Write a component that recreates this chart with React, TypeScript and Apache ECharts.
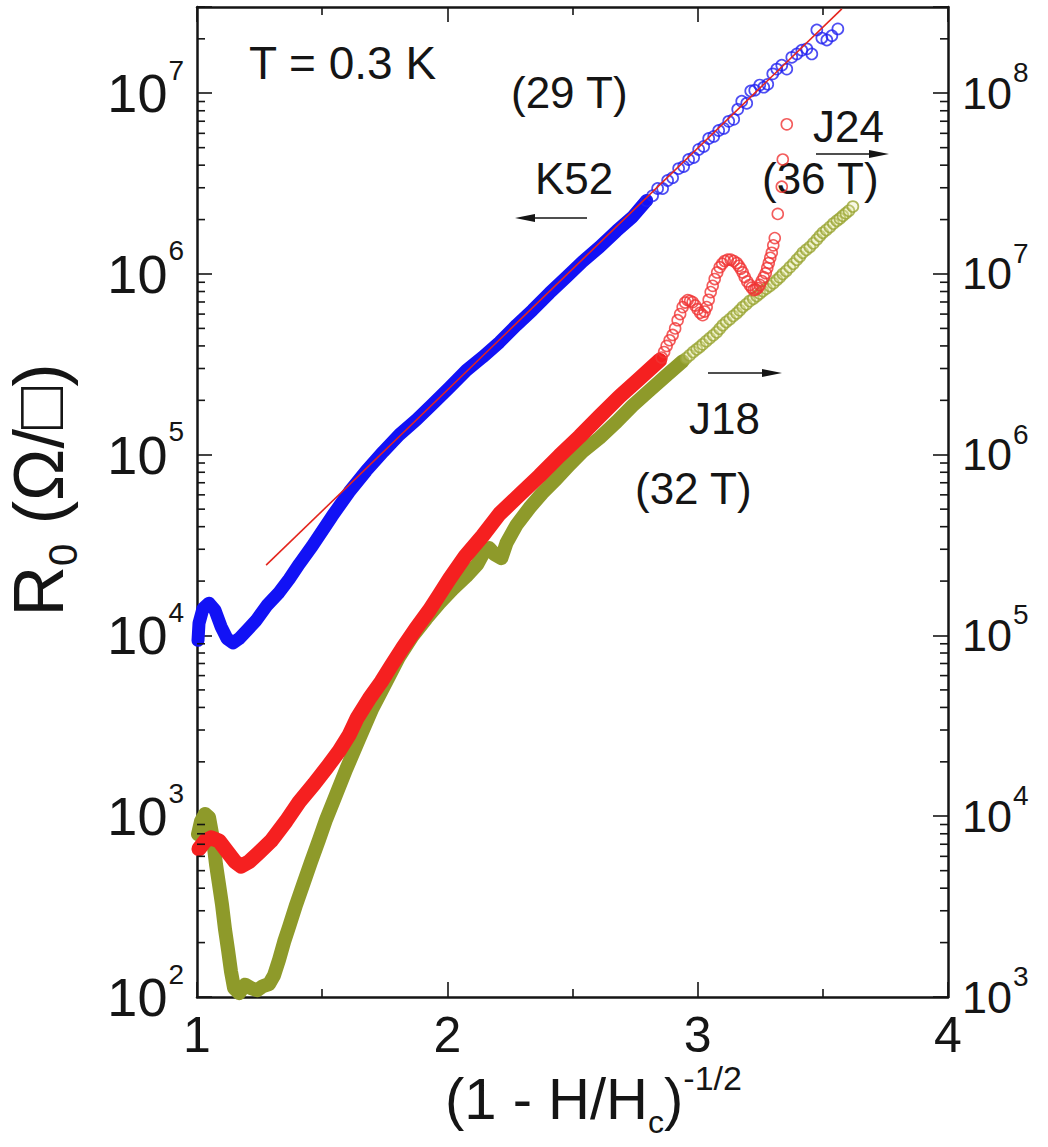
import React, { useEffect, useRef } from "react";
import * as echarts from "echarts";

const FONT = "'Liberation Sans', Arial, Helvetica, sans-serif";

// x axis: (1 - H/Hc)^-1/2
const X_MIN = 1;
const X_MAX = 4;
const X_INTERVAL = 1;

// left axis (K52), Ohm/sq
const LEFT_MIN = 100;
const LEFT_MAX = 3e7;
// right axis (J24, J18), Ohm/sq
const RIGHT_MIN = 1000;
const RIGHT_MAX = 3e8;

const minorFactors = [2, 3, 4, 5, 6, 7, 8, 9];
const leftDecades = [100, 1000, 1e4, 1e5, 1e6, 1e7];
const rightDecades = [1000, 1e4, 1e5, 1e6, 1e7, 1e8];

// K52 (left axis) – dense part of the data
const k52Dense: [number, number][] = [
  [1.004, 9.4e3], [1.008, 1.17e4], [1.024, 1.41e4], [1.048, 1.51e4], [1.072, 1.38e4],
  [1.096, 1.12e4], [1.12, 9.6e3], [1.144, 9.1e3], [1.168, 9.6e3], [1.2, 1.07e4],
  [1.236, 1.21e4], [1.28, 1.47e4], [1.328, 1.73e4], [1.368, 2.05e4], [1.408, 2.48e4],
  [1.46, 3.12e4], [1.54, 4.58e4], [1.608, 6.23e4], [1.676, 8.15e4], [1.744, 1.04e5],
  [1.808, 1.29e5], [1.876, 1.56e5], [1.94, 1.9e5], [2.008, 2.35e5], [2.076, 2.93e5],
  [2.14, 3.46e5], [2.208, 4.19e5], [2.276, 5.21e5], [2.34, 6.31e5], [2.408, 7.84e5],
  [2.476, 9.62e5], [2.54, 1.17e6], [2.608, 1.41e6], [2.676, 1.73e6], [2.74, 2.07e6],
  [2.796, 2.55e6],
];
// K52 – sparse open circles at high x
const k52Sparse: [number, number][] = [
  [2.796, 2.54e6], [2.82, 2.71e6], [2.84, 2.97e6], [2.86, 2.97e6], [2.88, 3.29e6],
  [2.9, 3.41e6], [2.924, 3.83e6], [2.944, 3.93e6], [2.964, 4.3e6], [2.984, 4.41e6],
  [3.004, 4.89e6], [3.024, 5.08e6], [3.044, 5.62e6], [3.064, 5.77e6], [3.084, 6.22e6],
  [3.104, 6.39e6], [3.124, 6.99e6], [3.144, 7.17e6], [3.16, 8.15e6], [3.176, 9.03e6],
  [3.196, 8.8e6], [3.212, 1.03e7], [3.228, 1.04e7], [3.248, 1.11e7], [3.264, 1.08e7],
  [3.28, 1.12e7], [3.3, 1.28e7], [3.316, 1.36e7], [3.336, 1.43e7], [3.356, 1.36e7],
  [3.376, 1.58e7], [3.396, 1.65e7], [3.416, 1.73e7], [3.436, 1.76e7], [3.456, 1.65e7],
  [3.476, 2.24e7], [3.496, 2.02e7], [3.516, 1.97e7], [3.536, 2.08e7], [3.56, 2.27e7],
];
// exponential fit for K52
const k52Fit: [number, number][] = [
  [1.276, 2.45e4],
  [3.576, 2.93e7],
];

// J24 (right axis)
const j24Dense: [number, number][] = [
  [1.008, 6.6e3], [1.032, 7.3e3], [1.056, 7.6e3], [1.088, 7.3e3], [1.12, 6.4e3],
  [1.152, 5.6e3], [1.176, 5.3e3], [1.208, 5.6e3], [1.248, 6.3e3], [1.296, 7.3e3],
  [1.356, 9.4e3], [1.408, 1.2e4], [1.468, 1.51e4], [1.52, 1.87e4], [1.568, 2.3e4],
  [1.608, 2.82e4], [1.64, 3.5e4], [1.688, 4.47e4], [1.736, 5.55e4], [1.776, 6.81e4],
  [1.82, 8.47e4], [1.872, 1.08e5], [1.928, 1.38e5], [1.968, 1.68e5], [2.008, 2.05e5],
  [2.072, 2.75e5], [2.14, 3.55e5], [2.208, 4.7e5], [2.288, 6.0e5], [2.368, 7.64e5],
  [2.448, 9.87e5], [2.528, 1.26e6], [2.608, 1.63e6], [2.688, 2.1e6], [2.768, 2.64e6],
  [2.848, 3.33e6],
];
const j24Sparse: [number, number][] = [
  [2.856, 3.45e6], [2.866, 3.7e6], [2.876, 4.0e6], [2.888, 4.3e6], [2.9, 4.6e6],
  [2.91, 5.0e6], [2.92, 5.55e6], [2.93, 6.0e6], [2.94, 6.56e6], [2.95, 6.95e6],
  [2.96, 7.17e6], [2.97, 7.1e6], [2.98, 6.99e6], [2.99, 6.7e6], [3.0, 6.39e6],
  [3.01, 6.1e6], [3.02, 5.92e6], [3.028, 6.2e6], [3.036, 6.56e6], [3.044, 7.2e6],
  [3.052, 7.94e6], [3.06, 8.6e6], [3.068, 9.38e6], [3.078, 1.02e7], [3.088, 1.09e7],
  [3.098, 1.14e7], [3.108, 1.18e7], [3.12, 1.2e7], [3.132, 1.2e7], [3.144, 1.18e7],
  [3.156, 1.15e7], [3.164, 1.11e7], [3.172, 1.07e7], [3.18, 1.02e7], [3.188, 9.62e6],
  [3.198, 9.1e6], [3.208, 8.69e6], [3.216, 8.4e6], [3.224, 8.15e6], [3.232, 8.2e6],
  [3.24, 8.36e6], [3.248, 8.7e6], [3.256, 9.14e6], [3.264, 9.6e6], [3.272, 1.01e7],
  [3.278, 1.08e7], [3.284, 1.15e7], [3.29, 1.23e7], [3.296, 1.31e7], [3.302, 1.44e7],
  [3.308, 1.58e7], [3.32, 2.15e7], [3.336, 3.04e7], [3.34, 4.3e7], [3.356, 6.73e7],
];

// J18 (right axis)
const j18Dense: [number, number][] = [
  [1.004, 7.94e3], [1.016, 9.38e3], [1.032, 1.03e4], [1.048, 9.87e3], [1.064, 7.45e3],
  [1.076, 5.41e3], [1.088, 4.19e3], [1.1, 3.24e3], [1.112, 2.36e3], [1.124, 1.82e3],
  [1.136, 1.38e3], [1.148, 1.12e3], [1.168, 1.05e3], [1.192, 1.17e3], [1.216, 1.12e3],
  [1.24, 1.09e3], [1.264, 1.15e3], [1.288, 1.18e3], [1.308, 1.32e3], [1.328, 1.61e3],
  [1.348, 2.02e3], [1.368, 2.45e3], [1.396, 3.24e3], [1.428, 4.35e3], [1.456, 5.62e3],
  [1.488, 7.45e3], [1.516, 9.62e3], [1.548, 1.24e4], [1.596, 1.82e4], [1.648, 2.68e4],
  [1.7, 3.93e4], [1.756, 5.55e4], [1.808, 7.64e4], [1.86, 9.87e4], [1.916, 1.24e5],
  [1.968, 1.51e5], [2.02, 1.8e5], [2.076, 2.13e5], [2.12, 2.48e5], [2.148, 2.93e5],
  [2.168, 3.04e5], [2.188, 2.82e5], [2.216, 2.68e5], [2.236, 3.24e5], [2.276, 4.08e5],
  [2.328, 5.08e5], [2.38, 6.15e5], [2.436, 7.36e5], [2.488, 8.8e5], [2.54, 1.04e6],
  [2.608, 1.24e6], [2.676, 1.52e6], [2.74, 1.87e6], [2.808, 2.27e6], [2.876, 2.75e6],
  [2.94, 3.29e6],
];
const j18Sparse: [number, number][] = [
  [2.954, 3.42e6], [2.968, 3.55e6], [2.982, 3.7e6], [2.996, 3.83e6], [3.008, 3.95e6],
  [3.02, 4.08e6], [3.034, 4.25e6], [3.048, 4.41e6], [3.062, 4.58e6], [3.076, 4.76e6],
  [3.088, 4.98e6], [3.1, 5.21e6], [3.114, 5.42e6], [3.128, 5.62e6], [3.142, 5.85e6],
  [3.156, 6.07e6], [3.168, 6.3e6], [3.18, 6.56e6], [3.194, 6.8e6], [3.208, 7.08e6],
  [3.222, 7.3e6], [3.236, 7.55e6], [3.248, 7.8e6], [3.26, 8.05e6], [3.274, 8.3e6],
  [3.288, 8.58e6], [3.302, 8.9e6], [3.316, 9.27e6], [3.328, 9.6e6], [3.34, 1.0e7],
  [3.354, 1.04e7], [3.368, 1.09e7], [3.382, 1.14e7], [3.396, 1.2e7], [3.408, 1.25e7],
  [3.42, 1.31e7], [3.434, 1.36e7], [3.448, 1.41e7], [3.462, 1.48e7], [3.476, 1.55e7],
  [3.488, 1.62e7], [3.5, 1.69e7], [3.514, 1.75e7], [3.528, 1.82e7], [3.542, 1.9e7],
  [3.556, 1.97e7], [3.568, 2.03e7], [3.58, 2.1e7], [3.592, 2.17e7], [3.604, 2.24e7],
  [3.62, 2.36e7],
];

const BLUE = "#1212f5";
const RED = "#f52020";
const OLIVE = "#8e9a2a";
const FIT = "#e4261e";
const INK = "#151515";

function minorTicks(decades: number[], maxV: number): [number, number][] {
  const out: [number, number][] = [];
  decades.forEach((d) =>
    minorFactors.forEach((f) => {
      const v = d * f;
      if (v <= maxV * 1.0001) out.push([X_MIN, v]);
    })
  );
  return out;
}

function logLabel(v: number): string {
  const e = Math.log10(v);
  const r = Math.round(e);
  if (Math.abs(e - r) > 1e-6) return "";
  return `{b|10}{s|${r}}`;
}

export default function App() {
  const ref = useRef<HTMLDivElement>(null);

  useEffect(() => {
    if (!ref.current) return;
    const chart = echarts.init(ref.current, null, { renderer: "svg" });

    const axisLineStyle = { color: INK, width: 2.5 };
    const tickStyle = { color: INK, width: 1.6 };

    const xAxisBase = {
      type: "value",
      min: X_MIN,
      max: X_MAX,
      interval: X_INTERVAL,
      axisLine: { show: true, onZero: false, lineStyle: axisLineStyle },
      axisTick: { show: true, inside: true, length: 15, lineStyle: tickStyle },
      minorTick: { show: true, splitNumber: 2, length: 8, lineStyle: tickStyle },
      splitLine: { show: false },
      minorSplitLine: { show: false },
    };

    const option: any = {
      animation: false,
      backgroundColor: "#ffffff",
      grid: { left: 197, top: 7, width: 751, height: 990, containLabel: false },
      xAxis: [
        {
          ...xAxisBase,
          position: "bottom",
          axisLabel: {
            fontSize: 50,
            fontFamily: FONT,
            color: INK,
            margin: 13,
            formatter: (v: number) => String(v),
          },
        },
        {
          ...xAxisBase,
          position: "top",
          axisLabel: { show: false },
        },
      ],
      yAxis: [
        {
          type: "log",
          logBase: 10,
          min: LEFT_MIN,
          max: LEFT_MAX,
          position: "left",
          axisLine: { show: true, onZero: false, lineStyle: axisLineStyle },
          axisTick: { show: true, inside: true, length: 15, lineStyle: tickStyle },
          splitLine: { show: false },
          axisLabel: {
            margin: 13,
            color: INK,
            fontFamily: FONT,
            formatter: logLabel,
            rich: {
              b: { fontSize: 54, fontFamily: FONT, color: INK, padding: [10, 0, 10, 0] },
              s: { fontSize: 28, fontFamily: FONT, color: INK, verticalAlign: "top", padding: [0, 0, 0, 1] },
            },
          },
        },
        {
          type: "log",
          logBase: 10,
          min: RIGHT_MIN,
          max: RIGHT_MAX,
          position: "right",
          axisLine: { show: true, onZero: false, lineStyle: axisLineStyle },
          axisTick: { show: true, inside: true, length: 15, lineStyle: tickStyle },
          splitLine: { show: false },
          axisLabel: {
            margin: 14,
            color: INK,
            fontFamily: FONT,
            formatter: logLabel,
            rich: {
              b: { fontSize: 45, fontFamily: FONT, color: INK, padding: [12, 0, 12, 0] },
              s: { fontSize: 28, fontFamily: FONT, color: INK, verticalAlign: "top", padding: [0, 0, 0, 1] },
            },
          },
        },
      ],
      series: [
        {
          name: "J18 band",
          type: "line",
          yAxisIndex: 1,
          data: j18Dense,
          symbol: "none",
          silent: true,
          lineStyle: { color: OLIVE, width: 14, cap: "round", join: "round" },
          z: 2,
        },
        {
          name: "J24 band",
          type: "line",
          yAxisIndex: 1,
          data: j24Dense,
          symbol: "none",
          silent: true,
          lineStyle: { color: RED, width: 15, cap: "round", join: "round" },
          z: 2,
        },
        {
          name: "K52 band",
          type: "line",
          yAxisIndex: 0,
          data: k52Dense,
          symbol: "none",
          silent: true,
          lineStyle: { color: BLUE, width: 13, cap: "round", join: "round" },
          z: 2,
        },
        {
          name: "J18",
          type: "scatter",
          yAxisIndex: 1,
          data: j18Sparse,
          symbol: "circle",
          symbolSize: 11,
          silent: true,
          itemStyle: { color: "rgba(225,230,160,0.35)", borderColor: "#9aa535", borderWidth: 1.7 },
          z: 3,
        },
        {
          name: "J24",
          type: "scatter",
          yAxisIndex: 1,
          data: j24Sparse,
          symbol: "circle",
          symbolSize: 11,
          silent: true,
          itemStyle: { color: "rgba(255,255,255,0)", borderColor: "#f03434", borderWidth: 1.6 },
          z: 3,
        },
        {
          name: "K52",
          type: "scatter",
          yAxisIndex: 0,
          data: k52Sparse,
          symbol: "circle",
          symbolSize: 11,
          silent: true,
          itemStyle: { color: "rgba(255,255,255,0)", borderColor: "#2222f0", borderWidth: 1.7 },
          z: 3,
        },
        {
          name: "K52 fit",
          type: "line",
          yAxisIndex: 0,
          data: k52Fit,
          symbol: "none",
          silent: true,
          lineStyle: { color: FIT, width: 1.6 },
          z: 5,
        },
        {
          name: "left minor ticks",
          type: "custom",
          yAxisIndex: 0,
          silent: true,
          data: minorTicks(leftDecades, LEFT_MAX),
          renderItem: (params: any, api: any) => {
            const p = api.coord([X_MIN, api.value(1)]);
            const cs = params.coordSys;
            return {
              type: "line",
              shape: { x1: cs.x, y1: p[1], x2: cs.x + 8, y2: p[1] },
              style: { stroke: INK, lineWidth: 1.6 },
            };
          },
          z: 6,
        },
        {
          name: "right minor ticks",
          type: "custom",
          yAxisIndex: 1,
          silent: true,
          data: minorTicks(rightDecades, RIGHT_MAX),
          renderItem: (params: any, api: any) => {
            const p = api.coord([X_MIN, api.value(1)]);
            const cs = params.coordSys;
            const xr = cs.x + cs.width;
            return {
              type: "line",
              shape: { x1: xr - 8, y1: p[1], x2: xr, y2: p[1] },
              style: { stroke: INK, lineWidth: 1.6 },
            };
          },
          z: 6,
        },
      ],
      graphic: [
        {
          type: "text",
          x: 249,
          y: 63,
          style: { text: "T = 0.3 K", fontSize: 46, fontFamily: FONT, fill: INK, align: "left", verticalAlign: "middle" },
        },
        {
          type: "text",
          x: 511,
          y: 92,
          style: { text: "(29 T)", fontSize: 44, fontFamily: FONT, fill: INK, align: "left", verticalAlign: "middle" },
        },
        {
          type: "text",
          x: 535,
          y: 178,
          style: { text: "K52", fontSize: 44, fontFamily: FONT, fill: INK, align: "left", verticalAlign: "middle" },
        },
        {
          type: "text",
          x: 813,
          y: 126,
          style: { text: "J24", fontSize: 44, fontFamily: FONT, fill: INK, align: "left", verticalAlign: "middle" },
        },
        {
          type: "text",
          x: 762,
          y: 178,
          style: { text: "(36 T)", fontSize: 44, fontFamily: FONT, fill: INK, align: "left", verticalAlign: "middle" },
        },
        {
          type: "text",
          x: 689,
          y: 418,
          style: { text: "J18", fontSize: 44, fontFamily: FONT, fill: INK, align: "left", verticalAlign: "middle" },
        },
        {
          type: "text",
          x: 635,
          y: 488,
          style: { text: "(32 T)", fontSize: 44, fontFamily: FONT, fill: INK, align: "left", verticalAlign: "middle" },
        },
        // arrows
        { type: "line", shape: { x1: 530, y1: 218, x2: 587, y2: 218 }, style: { stroke: INK, lineWidth: 1.5 } },
        { type: "polygon", shape: { points: [[515, 218], [535, 214], [535, 222]] }, style: { fill: INK } },
        { type: "line", shape: { x1: 816, y1: 154, x2: 874, y2: 154 }, style: { stroke: INK, lineWidth: 1.5 } },
        { type: "polygon", shape: { points: [[889, 154], [869, 150], [869, 158]] }, style: { fill: INK } },
        { type: "line", shape: { x1: 708, y1: 373, x2: 767, y2: 373 }, style: { stroke: INK, lineWidth: 1.5 } },
        { type: "polygon", shape: { points: [[782, 373], [762, 369], [762, 377]] }, style: { fill: INK } },
        // axis titles
        {
          type: "text",
          x: 445,
          y: 1098,
          style: {
            text: "{b|(1 - H/H}{sub|c}{b|)}{sup|-1/2}",
            align: "left",
            verticalAlign: "middle",
            fill: INK,
            fontFamily: FONT,
            rich: {
              b: { fontSize: 58, fontFamily: FONT, fill: INK, padding: [11, 0, 11, 0] },
              sub: { fontSize: 32, fontFamily: FONT, fill: INK, verticalAlign: "bottom" },
              sup: { fontSize: 34, fontFamily: FONT, fill: INK, verticalAlign: "top", padding: [3, 0, 0, 0] },
            },
          },
        },
        {
          type: "text",
          x: 43,
          y: 490,
          rotation: Math.PI / 2,
          style: {
            text: "{b|R}{sub|0}{b| (Ω/□)}",
            align: "center",
            verticalAlign: "middle",
            fill: INK,
            fontFamily: FONT,
            rich: {
              b: { fontSize: 70, fontFamily: FONT, fill: INK, padding: [0, 0, 9, 0], verticalAlign: "top" },
              sub: { fontSize: 40, fontFamily: FONT, fill: INK, verticalAlign: "bottom" },
            },
          },
        },
      ],
    };

    chart.setOption(option);
    return () => chart.dispose();
  }, []);

  return (
    <div
      ref={ref}
      style={{ position: "fixed", left: 0, top: 0, width: 1048, height: 1147, background: "#fff" }}
    />
  );
}
